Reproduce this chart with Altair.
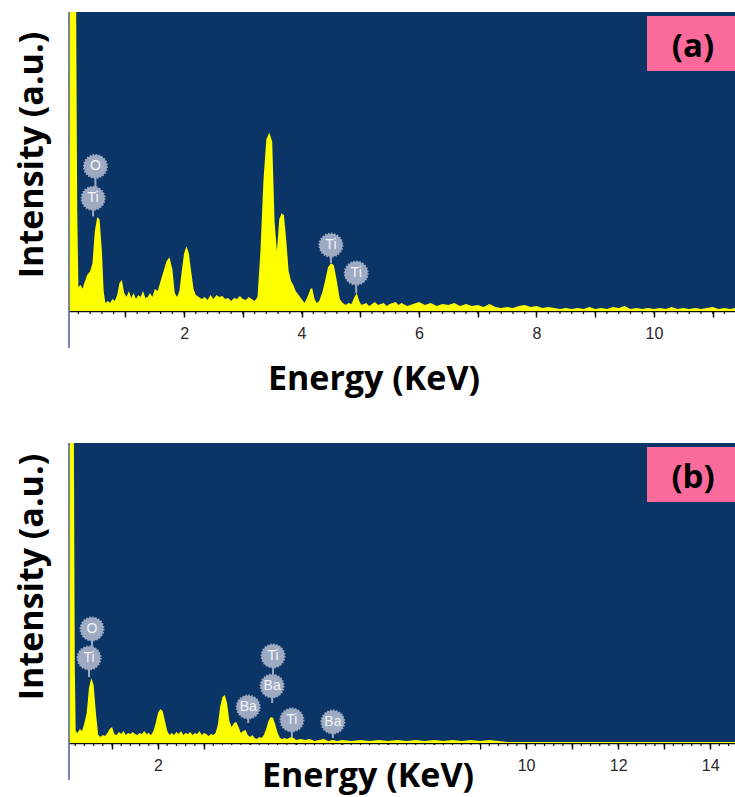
import altair as alt
import pandas as pd

# ---------------- data ----------------
# Panel (a): EDS spectrum, energy (keV) and intensity (a.u.)
A_ENERGY = [0.04, 0.16, 0.18, 0.20, 0.24, 0.27, 0.30, 0.35, 0.40, 0.44, 0.48, 0.52, 0.56, 0.60, 0.63,
            0.66, 0.70, 0.74, 0.78, 0.82, 0.86, 0.90, 0.94, 0.98, 1.02, 1.06, 1.10, 1.14, 1.18, 1.22,
            1.26, 1.30, 1.34, 1.38, 1.42, 1.46, 1.50, 1.55, 1.60, 1.65, 1.70, 1.75, 1.80, 1.84, 1.88,
            1.92, 1.96, 2.00, 2.04, 2.08, 2.12, 2.16, 2.20, 2.25, 2.30, 2.35, 2.40, 2.45, 2.50, 2.55,
            2.60, 2.65, 2.70, 2.75, 2.80, 2.85, 2.90, 2.95, 3.00, 3.05, 3.10, 3.15, 3.20, 3.25, 3.30,
            3.35, 3.40, 3.45, 3.50, 3.54, 3.58, 3.62, 3.66, 3.70, 3.74, 3.78, 3.82, 3.86, 3.90, 3.95,
            4.00, 4.05, 4.10, 4.15, 4.18, 4.22, 4.26, 4.30, 4.35, 4.40, 4.45, 4.50, 4.55, 4.60, 4.65,
            4.70, 4.75, 4.80, 4.85, 4.90, 4.94, 4.98, 5.02, 5.10, 5.15, 5.20, 5.25, 5.30, 5.40, 5.45,
            5.50, 5.60, 5.65, 5.70, 5.80, 5.90, 6.00, 6.10, 6.20, 6.30, 6.40, 6.50, 6.60, 6.70, 6.80,
            6.90, 7.00, 7.10, 7.20, 7.30, 7.40, 7.50, 7.60, 7.70, 7.80, 7.90, 8.00, 8.10, 8.20, 8.30,
            8.40, 8.50, 8.60, 8.70, 8.80, 8.90, 9.00, 9.10, 9.20, 9.30, 9.40, 9.50, 9.60, 9.70, 9.80,
            9.90, 10.00, 10.10, 10.20, 10.30, 10.40, 10.50, 10.60, 10.70, 10.80, 10.90, 11.00, 11.10,
            11.20, 11.30, 11.38]
A_COUNTS = [320, 320, 100, 24, 26, 22, 28, 36, 40, 48, 80, 94, 92, 60, 20,
            8, 10, 8, 12, 10, 16, 28, 31, 18, 14, 20, 13, 18, 12, 16,
            14, 20, 13, 14, 18, 14, 22, 20, 30, 40, 50, 54, 42, 18, 14,
            20, 40, 58, 65, 58, 40, 22, 16, 14, 12, 14, 11, 16, 12, 16,
            14, 15, 12, 13, 10, 13, 12, 15, 12, 11, 14, 12, 10, 14, 60,
            130, 172, 179, 170, 90, 60, 92, 98, 96, 70, 40, 30, 26, 20, 16,
            12, 8, 14, 22, 23, 12, 8, 10, 18, 30, 44, 48, 46, 30, 12,
            8, 6, 8, 7, 14, 18, 10, 6, 8, 5, 7, 9, 6, 8, 5,
            7, 9, 6, 8, 5, 7, 9, 6, 8, 5, 7, 6, 8, 5, 7,
            5, 6, 4, 7, 4, 3, 4, 3, 5, 6, 4, 5, 3, 4, 3,
            2, 3, 2, 3, 2, 4, 2, 3, 2, 4, 3, 5, 2, 3, 2,
            3, 2, 3, 2, 4, 2, 3, 2, 3, 2, 3, 4, 2,
            3, 2, 3]
A_LABEL_TEXT = ["O", "Ti", "Ti", "Ti"]
A_LABEL_E = [0.49, 0.45, 4.50, 4.93]
A_LABEL_Y = [145, 113, 66, 38]
A_STEM_FROM = [113, 95, 48, 18]

# Panel (b)
B_ENERGY = [0.065, 0.17, 0.19, 0.21, 0.25, 0.30, 0.35, 0.40, 0.45, 0.50, 0.55, 0.60, 0.65, 0.70, 0.75,
            0.80, 0.85, 0.90, 0.95, 1.00, 1.05, 1.10, 1.15, 1.20, 1.25, 1.30, 1.35, 1.40, 1.45, 1.50,
            1.55, 1.60, 1.65, 1.70, 1.75, 1.80, 1.85, 1.90, 1.95, 2.00, 2.05, 2.10, 2.15, 2.20, 2.25,
            2.30, 2.35, 2.40, 2.45, 2.50, 2.55, 2.60, 2.65, 2.70, 2.75, 2.80, 2.85, 2.90, 2.95, 3.00,
            3.05, 3.10, 3.15, 3.20, 3.25, 3.30, 3.35, 3.40, 3.45, 3.50, 3.55, 3.60, 3.65, 3.70, 3.75,
            3.80, 3.85, 3.90, 3.95, 4.00, 4.05, 4.10, 4.15, 4.20, 4.25, 4.30, 4.35, 4.40, 4.45, 4.50,
            4.55, 4.60, 4.65, 4.70, 4.75, 4.80, 4.85, 4.90, 4.95, 5.00, 5.10, 5.20, 5.30, 5.40, 5.50,
            5.60, 5.70, 5.80, 5.90, 6.00, 6.20, 6.40, 6.60, 6.80, 7.00, 7.20, 7.40, 7.60, 7.80, 8.00,
            8.20, 8.40, 8.60, 8.80, 9.00, 9.20, 9.40, 9.60, 10.00, 11.00, 12.00, 13.00, 14.00, 14.54]
B_COUNTS = [320, 320, 80, 12, 10, 14, 12, 20, 30, 55, 65, 58, 30, 8, 6,
            8, 7, 10, 14, 16, 9, 8, 11, 9, 12, 8, 10, 9, 11, 9,
            8, 10, 9, 12, 9, 10, 8, 12, 20, 30, 34, 32, 22, 12, 8,
            10, 8, 11, 9, 12, 8, 10, 9, 11, 8, 10, 9, 12, 8, 10,
            9, 7, 9, 8, 10, 18, 36, 46, 48, 40, 22, 16, 20, 21, 16,
            10, 12, 13, 8, 6, 8, 5, 4, 6, 5, 8, 14, 22, 26, 25,
            18, 10, 5, 4, 5, 4, 5, 6, 5, 3, 4, 3, 4, 2, 3,
            4, 2, 3, 2, 3, 2, 3, 2, 3, 2, 3, 2, 3, 2, 3,
            2, 3, 2, 3, 2, 3, 2, 1, 1, 1, 1, 1, 1, 1]
B_LABEL_TEXT = ["O", "Ti", "Ti", "Ba", "Ba", "Ti", "Ba"]
B_LABEL_E = [0.565, 0.50, 4.50, 4.48, 3.96, 4.91, 5.80]
B_LABEL_Y = [114, 85, 87, 57, 36, 23, 21]
B_STEM_FROM = [85, 66, 57, 40, 20, 6, 5]

# axis ticks; labelled values (the reference hides 4, 6, 8 in panel b behind its title)
A_MAJOR = [1, 2, 3, 4, 5, 6, 7, 8, 9, 10, 11]
A_LABELED = [2, 4, 6, 8, 10]
B_MAJOR = [1, 2, 3, 4, 5, 6, 7, 8, 9, 10, 11, 12, 13, 14]
B_LABELED = [2, 10, 12, 14]
A_MINOR = [round(0.2 * i, 1) for i in range(1, 57)]
B_MINOR = [round(0.2 * i, 1) for i in range(1, 73)]

BG = "#0b3567"
YELLOW = "#ffff00"
GREY = "#9eaac2"
PINK = "#fa6a9a"
TITLE_FONT = "Open Sans"


def panel(energy, counts, lab_text, lab_e, lab_y, lab_from, domain, height,
          major, labeled, minor, tag, ytitle_y, xtitle_x, xtitle_y, cover=False, bounds=False):
    xs = alt.Scale(domain=domain, nice=False, zero=False)
    ys = alt.Scale(domain=[0, 300], nice=False, zero=True)
    cond = " || ".join(f"datum.value == {v}" for v in labeled)
    X = alt.X("E:Q", scale=xs, axis=alt.Axis(
        values=major, title=None, grid=False,
        labelExpr=f"({cond}) ? datum.label : ''",
        tickSize=6, tickWidth=1.5, tickColor="#111",
        domainColor="#111", domainWidth=1.5,
        labelFont="Liberation Sans", labelFontSize=16, labelColor="#2a2a2a",
        labelPadding=8))
    Yq = lambda f: alt.Y(f, scale=ys, axis=None)

    spec = pd.DataFrame({"E": energy, "I": counts})
    labs = pd.DataFrame({"E": lab_e, "Y": lab_y, "F": lab_from, "T": lab_text})
    ticks = pd.DataFrame({"E": minor})
    one = pd.DataFrame({"t": [tag]})

    layers = []
    area = alt.Chart(spec).mark_area(color=YELLOW, clip=True, interpolate="linear").encode(
        x=X, y=Yq("I:Q"))
    layers.append(area)
    minor_ticks = alt.Chart(ticks).mark_rule(color="#111", strokeWidth=1.2).encode(
        x=X, y=alt.value(height), y2=alt.value(height + 3))
    layers.append(minor_ticks)
    stems = alt.Chart(labs).mark_rule(color=GREY, strokeWidth=2).encode(
        x=X, y=Yq("F:Q"), y2="Y:Q")
    layers.append(stems)
    circles = alt.Chart(labs).mark_circle(size=530, color=GREY, opacity=1, stroke=GREY,
                                          strokeWidth=2, strokeDash=[1.5, 1.5]).encode(
        x=X, y=Yq("Y:Q"))
    layers.append(circles)
    texts = alt.Chart(labs).mark_text(color="#f2f4f8", fontSize=14, font="Liberation Sans",
                                      baseline="middle", align="center").encode(
        x=X, y=Yq("Y:Q"), text="T:N")
    layers.append(texts)
    pink = alt.Chart(one).mark_rect(color=PINK).encode(
        x=alt.value(578), x2=alt.value(666), y=alt.value(4), y2=alt.value(59))
    layers.append(pink)
    tag_text = alt.Chart(one).mark_text(font=TITLE_FONT, fontWeight="bold", fontSize=33,
                                        color="black", align="center", baseline="alphabetic").encode(
        x=alt.value(624), y=alt.value(45), text="t:N")
    layers.append(tag_text)
    if cover:
        cov = alt.Chart(one).mark_rect(color="white").encode(
            x=alt.value(149), x2=alt.value(411), y=alt.value(height + 2), y2=alt.value(height + 54))
        layers.append(cov)
    xt = alt.Chart(one).mark_text(font=TITLE_FONT, fontWeight="bold", fontSize=34, color="black",
                                  align="center", baseline="alphabetic", text="Energy (KeV)").encode(
        x=alt.value(xtitle_x), y=alt.value(xtitle_y))
    layers.append(xt)
    yt = alt.Chart(one).mark_text(font=TITLE_FONT, fontWeight="bold", fontSize=34, color="black",
                                  align="center", baseline="middle", angle=270,
                                  text="Intensity (a.u.)").encode(
        x=alt.value(-36), y=alt.value(ytitle_y))
    layers.append(yt)
    left = alt.Chart(one).mark_rule(color="#4a5f95", strokeWidth=1.5).encode(
        x=alt.value(0), y=alt.value(0), y2=alt.value(height + 37))
    layers.append(left)
    if bounds:
        b = alt.Chart(one).mark_rect(opacity=0, color="white").encode(
            x=alt.value(-69), x2=alt.value(666), y=alt.value(-12), y2=alt.value(785))
        layers.append(b)
    return alt.layer(*layers).properties(width=666, height=height)


pa = panel(A_ENERGY, A_COUNTS, A_LABEL_TEXT, A_LABEL_E, A_LABEL_Y, A_STEM_FROM,
           [0.04, 11.38], 299, A_MAJOR, A_LABELED, A_MINOR, "(a)", 143, 305, 378,
           cover=False, bounds=True)
pb = panel(B_ENERGY, B_COUNTS, B_LABEL_TEXT, B_LABEL_E, B_LABEL_Y, B_STEM_FROM,
           [0.065, 14.54], 300, B_MAJOR, B_LABELED, B_MINOR, "(b)", 134, 299, 344,
           cover=True, bounds=False)

chart = alt.vconcat(pa, pb, spacing=132, bounds="flush").properties(
    padding=0, background="white"
).configure_view(fill=BG, stroke=None)

chart.save("out.html", embed_options={"renderer": "svg", "actions": False})
